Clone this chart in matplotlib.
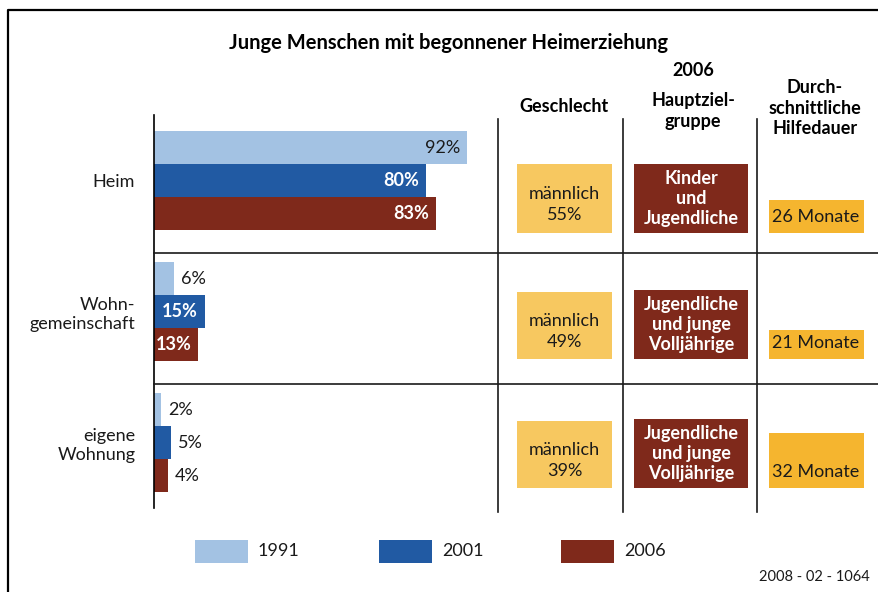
import matplotlib.pyplot as plt
from matplotlib.patches import Rectangle
from matplotlib.lines import Line2D

plt.rcParams['font.family'] = ['Lato', 'DejaVu Sans']

# Daten
kategorien = ['Heim', 'Wohn-\ngemeinschaft', 'eigene\nWohnung']
jahre = ['1991', '2001', '2006']
werte_1991 = [92, 6, 2]
werte_2001 = [80, 15, 5]
werte_2006 = [83, 13, 4]
maennlich = [55, 49, 39]
zielgruppe = ['Kinder\nund\nJugendliche',
              'Jugendliche\nund junge\nVolljährige',
              'Jugendliche\nund junge\nVolljährige']
hilfedauer = [26, 21, 32]

farben = ['#A3C2E3', '#215AA3', '#7F291B']
gelb = '#F7C860'
orange = '#F5B52F'
fs = 13
ls = 1.22

W, H = 879, 592
fig = plt.figure(figsize=(W / 100, H / 100), dpi=100)


def fx(x):
    return x / W


def fy(y):
    return 1 - y / H


def linie(xs, ys, lw=1.2, color='#1a1a1a'):
    fig.add_artist(Line2D([fx(x) for x in xs], [fy(y) for y in ys],
                          transform=fig.transFigure, lw=lw, color=color))


def box(x0, x1, y0, y1, color):
    fig.add_artist(Rectangle((fx(x0), fy(y1)), fx(x1) - fx(x0), fy(y0) - fy(y1),
                             transform=fig.transFigure, color=color, lw=0))


def txt(x, y, s, **kw):
    fig.text(fx(x), fy(y), s, ha=kw.pop('ha', 'center'), va=kw.pop('va', 'center'), **kw)


# Rahmen
linie([8, 8, 879], [600, 10, 10], lw=1.6, color='black')

# Balkendiagramm
ax = fig.add_axes([fx(154), fy(508), fx(498) - fx(154), fy(115) - fy(508)])
ax.set_xlim(0, (498 - 154) / 3.4)
ax.set_ylim(2.5, -0.5)
h = 33 / 131
serien = [werte_1991, werte_2001, werte_2006]
for j, (werte, farbe) in enumerate(zip(serien, farben)):
    pos = [i + (j - 1) * h for i in range(len(kategorien))]
    ax.barh(pos, werte, height=h, color=farbe, lw=0)
    for p, v in zip(pos, werte):
        if v >= 10:
            weiss = j > 0
            ax.annotate(f'{v}%', (v, p), xytext=(-5, 0), textcoords='offset points',
                        ha='right', va='center', fontsize=fs,
                        color='white' if weiss else '#1a1a1a',
                        fontweight='bold' if weiss else 'normal')
        else:
            ax.annotate(f'{v}%', (v, p), xytext=(5, 0), textcoords='offset points',
                        ha='left', va='center', fontsize=fs, color='#1a1a1a')

ax.set_yticks(range(len(kategorien)))
ax.set_yticklabels(kategorien, fontsize=fs, color='#1a1a1a', linespacing=ls)
ax.tick_params(left=False, bottom=False, labelbottom=False, pad=10)
ax.set_xticks([])
for s in ['top', 'right', 'bottom']:
    ax.spines[s].set_visible(False)
ax.spines['left'].set_linewidth(1.2)
ax.patch.set_alpha(0)

# Tabellenlinien
for x in [498, 623, 757]:
    linie([x, x], [119, 512])
for y in [253, 384]:
    linie([154, 879], [y, y])

# Überschriften
txt(449, 43, 'Junge Menschen mit begonnener Heimerziehung', fontsize=14.5, fontweight='bold')
txt(693, 71, '2006', fontsize=fs, fontweight='bold')
txt(564, 107, 'Geschlecht', fontsize=fs, fontweight='bold')
txt(693, 111, 'Hauptziel-\ngruppe', fontsize=fs, fontweight='bold', linespacing=ls)
txt(815, 108, 'Durch-\nschnittliche\nHilfedauer', fontsize=fs, fontweight='bold', linespacing=ls)

# Tabellenfelder
geschl_y = [(164, 233), (292, 359), (421, 488)]
ziel_y = [(164, 233), (290, 359), (419, 488)]
dauer_y = [(200, 233), (330, 359), (433, 488)]
for i in range(len(kategorien)):
    y0, y1 = geschl_y[i]
    box(517, 612, y0, y1, gelb)
    txt(564.5, (y0 + y1) / 2 + 6, f'männlich\n{maennlich[i]}%', fontsize=fs,
        color='#1a1a1a', linespacing=1.35)
    y0, y1 = ziel_y[i]
    box(634, 748, y0, y1, farben[2])
    txt(691, (y0 + y1) / 2, zielgruppe[i], fontsize=fs, color='white',
        fontweight='bold', linespacing=ls)
    y0, y1 = dauer_y[i]
    box(769, 864, y0, y1, orange)
    txt(816, y1 - 16, f'{hilfedauer[i]} Monate', fontsize=fs, color='#1a1a1a')

# Legende
for (x0, x1), jahr, farbe in zip([(195, 248), (379, 432), (561, 614)], jahre, farben):
    box(x0, x1, 540, 563, farbe)
    txt(x1 + 10, 551, jahr, ha='left', fontsize=fs, color='#1a1a1a')

txt(870, 577, '2008 - 02 - 1064', ha='right', fontsize=10.5, color='#1a1a1a')

fig.savefig('out.png', dpi=100)
